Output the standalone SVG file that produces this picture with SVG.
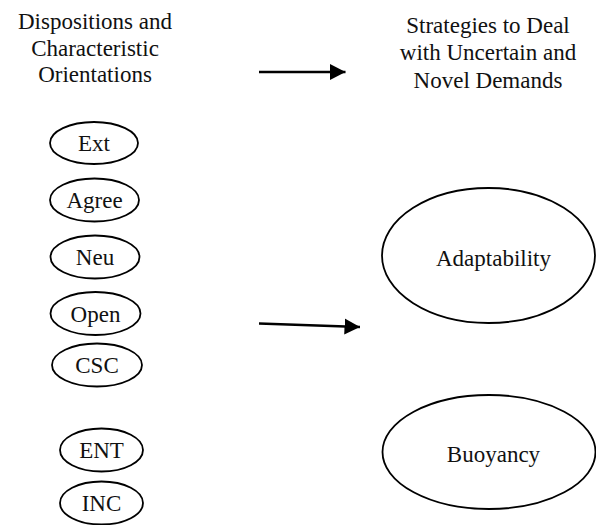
<svg xmlns="http://www.w3.org/2000/svg" width="596" height="525" viewBox="0 0 596 525">
  <style>
    text { font-family: "Liberation Serif", "Times New Roman", serif; font-size: 23px; fill: #111; text-anchor: middle; }
    .node ellipse { fill: #fff; stroke: #000; stroke-width: 1.8; }
    .edge { stroke: #000; stroke-width: 2.4; fill: none; marker-end: url(#arrow); }
  </style>
  <defs>
    <marker id="arrow" markerUnits="userSpaceOnUse" markerWidth="16" markerHeight="17" refX="15.5" refY="8" orient="auto">
      <path d="M0,0 L15.5,8 L0,16 Z" fill="#000"/>
    </marker>
  </defs>
  <rect width="596" height="525" fill="#fff"/>

  <!-- column headings -->
  <g id="heading-left">
    <text x="95" y="29">Dispositions and</text>
    <text x="95" y="55.5">Characteristic</text>
    <text x="95" y="82">Orientations</text>
  </g>
  <g id="heading-right">
    <text x="488" y="32.5">Strategies to Deal</text>
    <text x="488" y="60">with Uncertain and</text>
    <text x="488" y="87.5">Novel Demands</text>
  </g>

  <!-- connectors -->
  <g id="connectors">
    <line class="edge" x1="259" y1="72" x2="345.5" y2="72"/>
    <line class="edge" x1="259" y1="323.5" x2="360" y2="327"/>
  </g>

  <!-- trait nodes -->
  <g id="ext" class="node">
    <ellipse cx="94" cy="143" rx="44" ry="21"/>
    <text x="94" y="151">Ext</text>
  </g>
  <g id="agree" class="node">
    <ellipse cx="94.5" cy="200" rx="44.5" ry="21.5"/>
    <text x="94.5" y="208">Agree</text>
  </g>
  <g id="neu" class="node">
    <ellipse cx="95" cy="257" rx="44.5" ry="21.5"/>
    <text x="95" y="265">Neu</text>
  </g>
  <g id="open" class="node">
    <ellipse cx="95.5" cy="313.5" rx="45" ry="21.5"/>
    <text x="95.5" y="321.5">Open</text>
  </g>
  <g id="csc" class="node">
    <ellipse cx="97" cy="365" rx="45" ry="21.5"/>
    <text x="97" y="373">CSC</text>
  </g>
  <g id="ent" class="node">
    <ellipse cx="101.5" cy="450" rx="41.5" ry="21.5"/>
    <text x="101.5" y="458">ENT</text>
  </g>
  <g id="inc" class="node">
    <ellipse cx="101.5" cy="503" rx="41.5" ry="21.5"/>
    <text x="101.5" y="511">INC</text>
  </g>

  <!-- strategy nodes -->
  <g id="adaptability" class="node">
    <ellipse cx="488.5" cy="255.5" rx="106.5" ry="67.5"/>
    <text x="493.5" y="266">Adaptability</text>
  </g>
  <g id="buoyancy" class="node">
    <ellipse cx="489" cy="452" rx="106.5" ry="57"/>
    <text x="493.5" y="461.5">Buoyancy</text>
  </g>
</svg>
